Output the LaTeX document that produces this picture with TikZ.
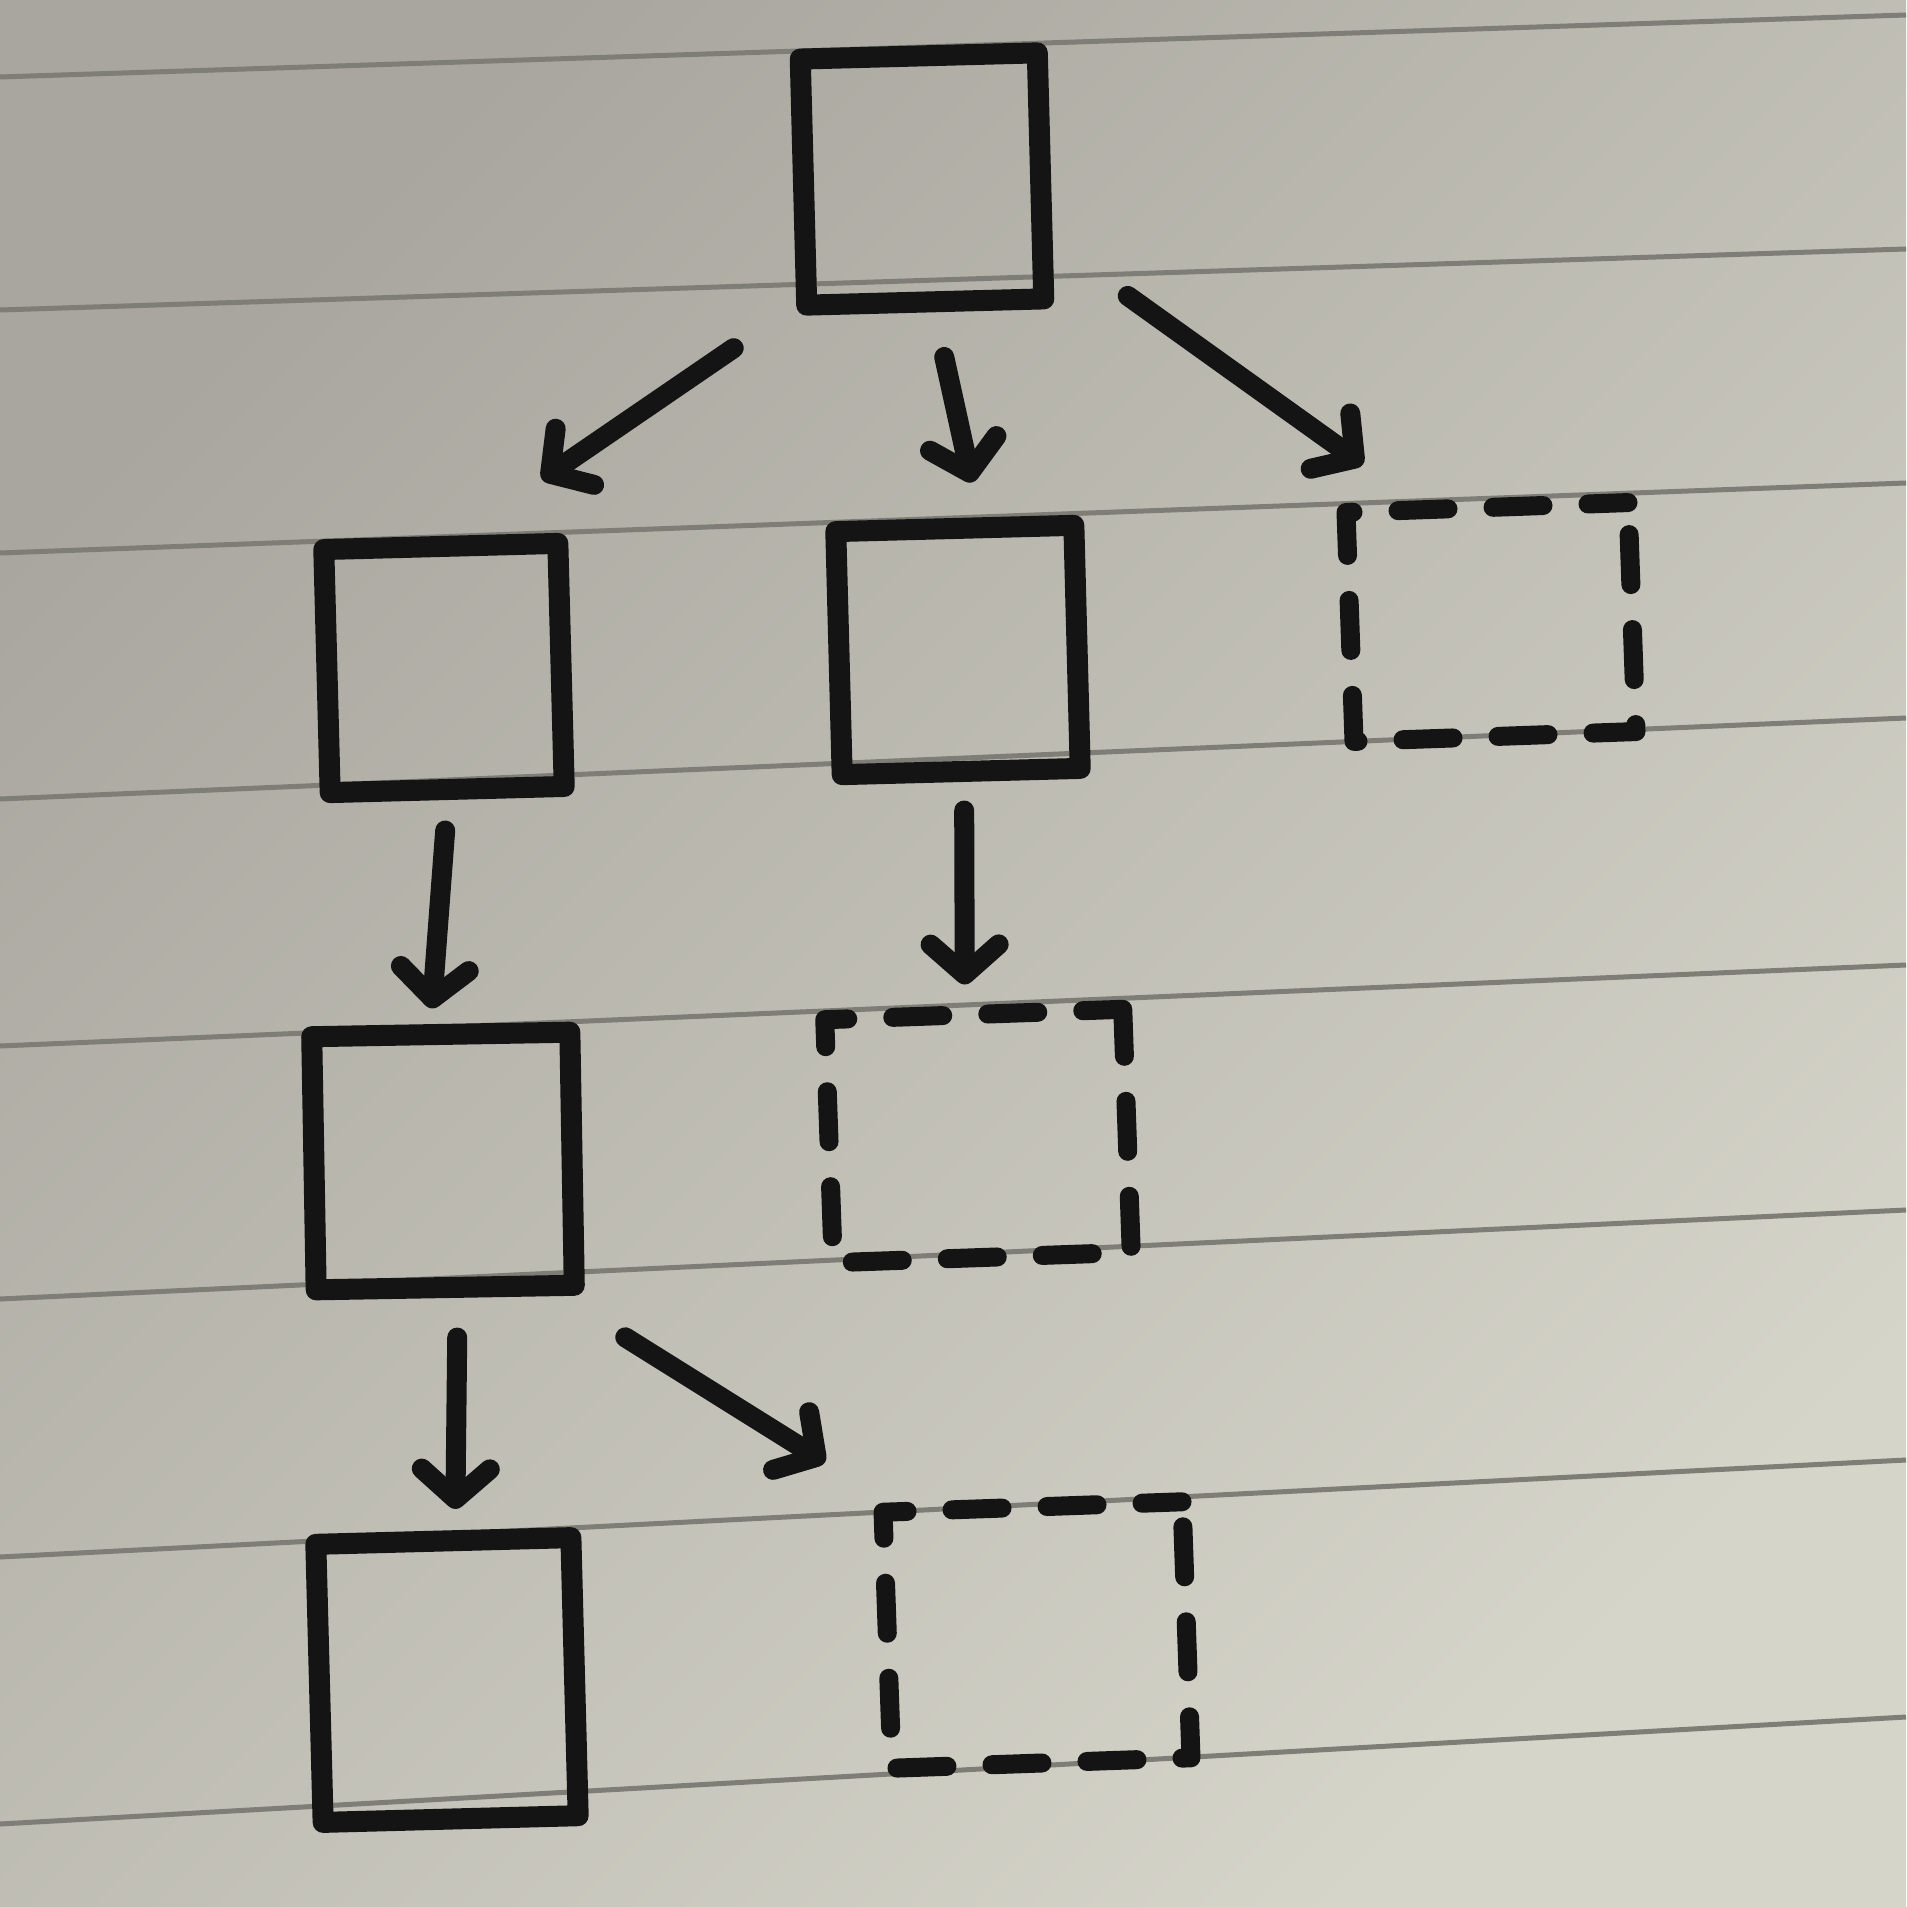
\documentclass[tikz,border=0pt]{standalone}
\usetikzlibrary{arrows.meta}
\definecolor{ink}{HTML}{141414}
\definecolor{rulecol}{HTML}{7E7D76}
\definecolor{paperdark}{HTML}{A8A69E}
\definecolor{paperlight}{HTML}{D6D5CA}
\begin{document}
\begin{tikzpicture}[x=0.01cm,y=-0.01cm,
  solidbox/.style={draw=ink, line width=0.21cm, line join=round, inner sep=0pt, outer sep=0pt},
  dashbox/.style={draw=ink, line width=0.19cm, line cap=round, line join=round, inner sep=0pt, outer sep=0pt,
    dash pattern=on 0.5cm off 0.45cm, dash phase=0.1cm},
  conn/.style={draw=ink, line width=0.2cm, line cap=round,
    -{Straight Barb[length=0.3cm,width=0.68cm,line cap=round,line join=round]}}]
\useasboundingbox (0,0) rectangle (1906,1907);
% paper
\shade[top color=paperdark, bottom color=paperlight, shading angle=45] (0,0) rectangle (1906,1907);
\foreach \a/\b in {77/15, 310/249, 553/483, 799/718, 1046/965, 1299/1210, 1557/1460, 1824/1717}
  \draw[rulecol, line width=0.05cm] (0,\a) -- (1906,\b);
% boxes
\node[solidbox, minimum width=2.37cm, minimum height=2.46cm, rotate=1.5] (top) at (922,179) {};
\node[solidbox, minimum width=2.34cm, minimum height=2.43cm, rotate=1.5] (l2) at (444,668) {};
\node[solidbox, minimum width=2.38cm, minimum height=2.43cm, rotate=1.5] (m2) at (958,650) {};
\node[dashbox, minimum width=2.82cm, minimum height=2.29cm, rotate=2] (r2) at (1491,622) {};
\node[solidbox, minimum width=2.58cm, minimum height=2.53cm, rotate=1] (l3) at (443,1161) {};
\node[dashbox, minimum width=2.98cm, minimum height=2.43cm, rotate=2] (m3) at (978,1136) {};
\node[solidbox, minimum width=2.55cm, minimum height=2.78cm, rotate=1.5] (l4) at (447,1680) {};
\node[dashbox, minimum width=2.99cm, minimum height=2.56cm, rotate=2] (m4) at (1037,1635) {};
% connectors
\draw[conn] ([shift={(-73,43)}]top.south west) -- ([shift={(-16,-64)}]l2.north east);
\draw[conn] ([shift={(19,55)}]top.south) -- ([shift={(17,-46)}]m2.north);
\draw[conn] ([shift={(84,-3)}]top.south east) -- ([shift={(17,-48)}]r2.north west);
\draw[conn] ([shift={(-2,41)}]l2.south) -- ([shift={(-9,-26)}]l3.north);
\draw[conn] ([shift={(3,39)}]m2.south) -- ([shift={(-9,-30)}]m3.north);
\draw[conn] ([shift={(12,50)}]l3.south) -- ([shift={(12,-32)}]l4.north);
\draw[conn] ([shift={(51,52)}]l3.south east) -- ([shift={(-58,-50)}]m4.north west);
\end{tikzpicture}
\end{document}
